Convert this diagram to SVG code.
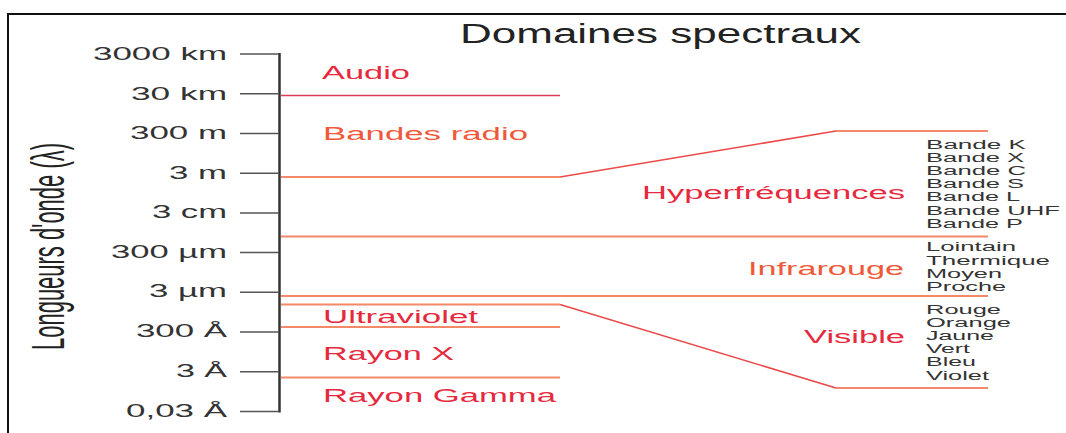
<svg xmlns="http://www.w3.org/2000/svg" width="1066" height="433" viewBox="0 0 1066 433">
<style>
  text { font-family: "Liberation Sans", Arial, sans-serif; }
  .scale { fill: #333; font-size: 17.5px; text-anchor: end; }
  .dom { font-size: 17.5px; }
  .red { fill: #e62a3e; }
  .org { fill: #f0583a; }
  .sub { fill: #333; font-size: 12.5px; }
  .tick { stroke: #555; stroke-width: 1.5; fill: none; }
  .ln { stroke: #f4886a; stroke-width: 2; fill: none; }
  .slant { stroke: #ea4a4a; stroke-width: 1.6; fill: none; }
  .crim { stroke: #dc3c5a; stroke-width: 1.6; }
</style>
<rect width="1066" height="433" fill="#ffffff"/>
<g id="frame">
  <path d="M8 433 V14 H1066" fill="none" stroke="#111" stroke-width="2"/>
</g>
<g id="title">
  <text x="460" y="43" font-size="27" fill="#222" textLength="401" lengthAdjust="spacingAndGlyphs">Domaines spectraux</text>
</g>
<g id="axis-label">
  <text transform="translate(64,350) rotate(-90) scale(1,2.1)" font-size="22" fill="#222" textLength="207" lengthAdjust="spacingAndGlyphs">Longueurs d'onde (λ)</text>
</g>
<g id="axis">
  <line x1="279.5" y1="53" x2="279.5" y2="412.5" stroke="#333" stroke-width="2.5"/>
  <g class="tick">
    <line x1="240" y1="54" x2="279" y2="54"/>
    <line x1="240" y1="93.7" x2="279" y2="93.7"/>
    <line x1="240" y1="133.4" x2="279" y2="133.4"/>
    <line x1="240" y1="173.2" x2="279" y2="173.2"/>
    <line x1="240" y1="212.9" x2="279" y2="212.9"/>
    <line x1="240" y1="252.6" x2="279" y2="252.6"/>
    <line x1="240" y1="292.3" x2="279" y2="292.3"/>
    <line x1="240" y1="332" x2="279" y2="332"/>
    <line x1="240" y1="371.8" x2="279" y2="371.8"/>
    <line x1="240" y1="411.5" x2="279" y2="411.5"/>
  </g>
  <text class="scale" x="227" y="60" textLength="134" lengthAdjust="spacingAndGlyphs">3000 km</text>
  <text class="scale" x="227" y="99.5" textLength="96" lengthAdjust="spacingAndGlyphs">30 km</text>
  <text class="scale" x="227" y="139" textLength="97" lengthAdjust="spacingAndGlyphs">300 m</text>
  <text class="scale" x="227" y="178.5" textLength="58" lengthAdjust="spacingAndGlyphs">3 m</text>
  <text class="scale" x="227" y="218" textLength="75" lengthAdjust="spacingAndGlyphs">3 cm</text>
  <text class="scale" x="227" y="257.5" textLength="116" lengthAdjust="spacingAndGlyphs">300 µm</text>
  <text class="scale" x="227" y="297" textLength="78" lengthAdjust="spacingAndGlyphs">3 µm</text>
  <text class="scale" x="227" y="337" textLength="91" lengthAdjust="spacingAndGlyphs">300 Å</text>
  <text class="scale" x="227" y="377" textLength="51" lengthAdjust="spacingAndGlyphs">3 Å</text>
  <text class="scale" x="227" y="416.5" textLength="101" lengthAdjust="spacingAndGlyphs">0,03 Å</text>
</g>
<g id="connectors">
  <line class="crim" x1="281" y1="95.5" x2="560" y2="95.5"/>
  <polyline class="ln" points="281,177 560,177"/>
  <line class="slant" x1="560" y1="177" x2="836" y2="131"/>
  <polyline class="ln" points="836,131 988,131"/>
  <line class="ln" x1="281" y1="236.5" x2="988" y2="236.5"/>
  <line class="ln" x1="281" y1="296" x2="988" y2="296"/>
  <polyline class="ln" points="281,304.5 560,304.5"/>
  <line class="slant" x1="560" y1="304.5" x2="836" y2="388"/>
  <polyline class="ln" points="836,388 988,388"/>
  <line class="ln" x1="281" y1="327" x2="560" y2="327"/>
  <line class="ln" x1="281" y1="377.5" x2="560" y2="377.5"/>
</g>
<g id="audio">
  <text class="dom red" x="322" y="78.5" textLength="88" lengthAdjust="spacingAndGlyphs">Audio</text>
</g>
<g id="radio">
  <text class="dom org" x="323" y="140" textLength="205" lengthAdjust="spacingAndGlyphs">Bandes radio</text>
</g>
<g id="hyperfrequences">
  <text class="dom red" x="642" y="199" font-size="18" textLength="263" lengthAdjust="spacingAndGlyphs">Hyperfréquences</text>
  <text class="sub" x="926" y="149" textLength="100" lengthAdjust="spacingAndGlyphs">Bande K</text>
  <text class="sub" x="926" y="162" textLength="98" lengthAdjust="spacingAndGlyphs">Bande X</text>
  <text class="sub" x="926" y="175" textLength="100" lengthAdjust="spacingAndGlyphs">Bande C</text>
  <text class="sub" x="926" y="188" textLength="98" lengthAdjust="spacingAndGlyphs">Bande S</text>
  <text class="sub" x="926" y="201.3" textLength="94" lengthAdjust="spacingAndGlyphs">Bande L</text>
  <text class="sub" x="926" y="214.5" textLength="134" lengthAdjust="spacingAndGlyphs">Bande UHF</text>
  <text class="sub" x="926" y="227.7" textLength="97" lengthAdjust="spacingAndGlyphs">Bande P</text>
</g>
<g id="infrarouge">
  <text class="dom org" x="748" y="275" font-size="18" textLength="156" lengthAdjust="spacingAndGlyphs">Infrarouge</text>
  <text class="sub" x="926" y="251.3" textLength="90" lengthAdjust="spacingAndGlyphs">Lointain</text>
  <text class="sub" x="926" y="264.5" textLength="124" lengthAdjust="spacingAndGlyphs">Thermique</text>
  <text class="sub" x="926" y="277.7" textLength="76" lengthAdjust="spacingAndGlyphs">Moyen</text>
  <text class="sub" x="926" y="290.9" textLength="80" lengthAdjust="spacingAndGlyphs">Proche</text>
</g>
<g id="visible">
  <text class="dom red" x="804" y="342.7" font-size="18" textLength="101" lengthAdjust="spacingAndGlyphs">Visible</text>
  <text class="sub" x="926" y="313.5" textLength="75" lengthAdjust="spacingAndGlyphs">Rouge</text>
  <text class="sub" x="926" y="326.7" textLength="85" lengthAdjust="spacingAndGlyphs">Orange</text>
  <text class="sub" x="926" y="339.9" textLength="68" lengthAdjust="spacingAndGlyphs">Jaune</text>
  <text class="sub" x="926" y="353.1" textLength="44" lengthAdjust="spacingAndGlyphs">Vert</text>
  <text class="sub" x="926" y="366.3" textLength="50" lengthAdjust="spacingAndGlyphs">Bleu</text>
  <text class="sub" x="926" y="379.5" textLength="63" lengthAdjust="spacingAndGlyphs">Violet</text>
</g>
<g id="ultraviolet">
  <text class="dom red" x="323" y="322.7" textLength="155" lengthAdjust="spacingAndGlyphs">Ultraviolet</text>
</g>
<g id="rayon-x">
  <text class="dom red" x="323" y="360" textLength="131" lengthAdjust="spacingAndGlyphs">Rayon X</text>
</g>
<g id="rayon-gamma">
  <text class="dom red" x="323" y="401.7" textLength="233" lengthAdjust="spacingAndGlyphs">Rayon Gamma</text>
</g>
</svg>
